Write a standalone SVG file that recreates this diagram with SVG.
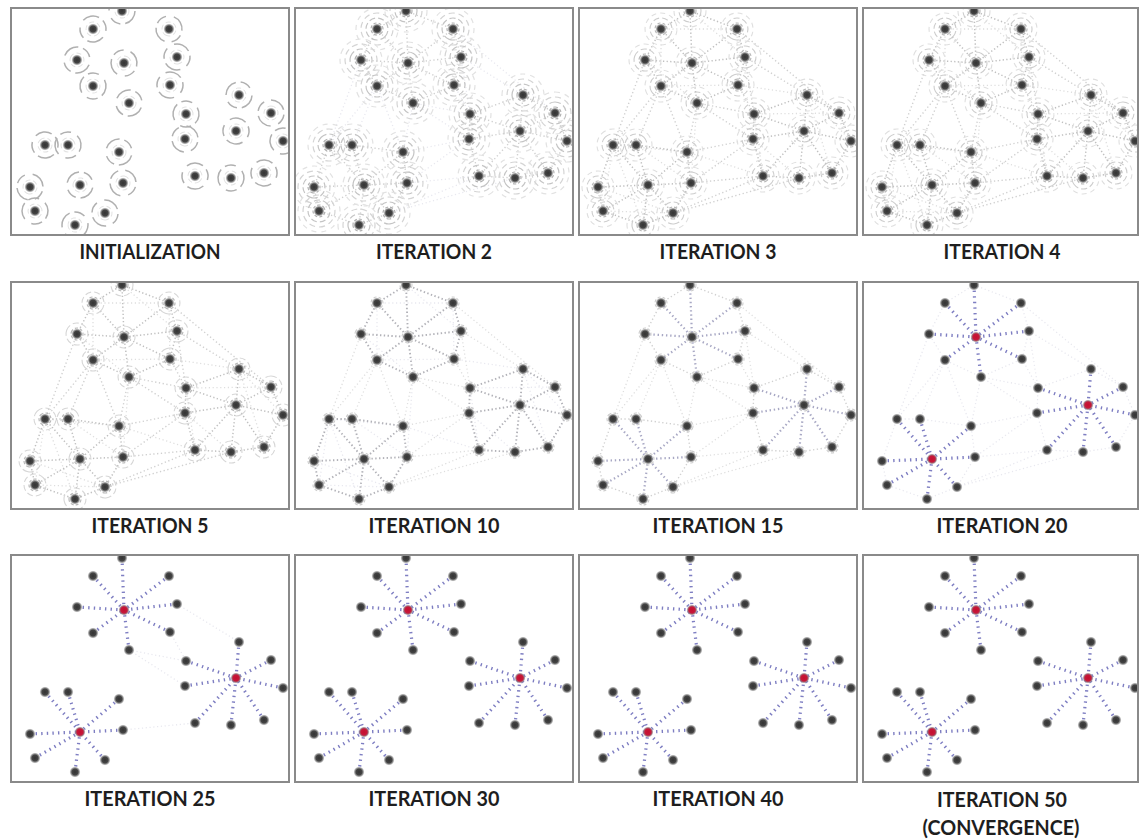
<svg xmlns="http://www.w3.org/2000/svg" width="1139" height="839" viewBox="0 0 1139 839">
<style>
.frame{fill:#fff;stroke:#8a8a8a;stroke-width:2}
.lbl{font-family:Lato,"Liberation Sans",sans-serif;font-weight:700;font-size:20px;fill:#1e1e1e;text-anchor:middle}
.m{fill:none;stroke-linecap:butt}
.mA{stroke:#c0c0c0;stroke-width:1.5;stroke-dasharray:1.3 2.3}
.mB{stroke:#d0d0d0;stroke-width:1.4;stroke-dasharray:1.3 2.5}
.mC{stroke:#dedede;stroke-width:1.3;stroke-dasharray:1.2 2.6}
.mD{stroke:#e8e8ef;stroke-width:1.3;stroke-dasharray:1.2 2.6}
.sp10{stroke:#b2b2b8;stroke-width:1.9;stroke-dasharray:1.4 2.4}
.sp15{stroke:#a8a8c4;stroke-width:2.2;stroke-dasharray:1.4 2.8}
.sp{stroke:#7e7ec2;stroke-width:3.2;stroke-dasharray:1.4 4.2}
.rg{fill:none}
</style>
<defs>
<radialGradient id="gd">
<stop offset="0" stop-color="#333"/>
<stop offset="0.55" stop-color="#444"/>
<stop offset="0.78" stop-color="#777" stop-opacity="0.7"/>
<stop offset="1" stop-color="#aaa" stop-opacity="0"/>
</radialGradient>
<radialGradient id="rd">
<stop offset="0" stop-color="#c3102f"/>
<stop offset="0.6" stop-color="#c8173a"/>
<stop offset="1" stop-color="#e06a80" stop-opacity="0"/>
</radialGradient>
<clipPath id="cp"><rect x="12" y="9" width="276" height="225"/></clipPath>
<clipPath id="cp4"><rect x="12" y="9" width="273" height="225"/></clipPath>

<g id="ring0" class="rg">
<circle r="7" stroke="#e2e2e2" stroke-width="1" stroke-dasharray="5 3"/>
<circle r="13" stroke="#b0b0b0" stroke-width="1.5" stroke-dasharray="17 5 11 8"/>
</g>
<g id="ring2" class="rg">
<circle r="6" stroke="#b0b0b0" stroke-width="1.2" stroke-dasharray="3 2"/>
<circle r="11" stroke="#c4c4c4" stroke-width="1.2" stroke-dasharray="6 3"/>
<circle r="16" stroke="#d4d4d4" stroke-width="1.2" stroke-dasharray="6 4"/>
<circle r="21" stroke="#e2e2e2" stroke-width="1.2" stroke-dasharray="5 5"/>
</g>
<g id="ring3" class="rg">
<circle r="6" stroke="#b8b8b8" stroke-width="1.2" stroke-dasharray="3 2"/>
<circle r="11" stroke="#cdcdcd" stroke-width="1.1" stroke-dasharray="6 3"/>
<circle r="16" stroke="#dfdfdf" stroke-width="1.1" stroke-dasharray="5 4"/>
</g>
<g id="ring5" class="rg">
<circle r="6" stroke="#b8b8b8" stroke-width="1.2" stroke-dasharray="3 2"/>
<circle r="11" stroke="#d6d6d6" stroke-width="1.1" stroke-dasharray="6 3"/>
</g>
<g id="ring10" class="rg">
<circle r="6" stroke="#cccccc" stroke-width="1.1" stroke-dasharray="3 2"/>
</g>

<g id="L0">
<use href="#ring0" transform="translate(122 11) rotate(0)"/>
<use href="#ring0" transform="translate(93 29) rotate(40)"/>
<use href="#ring0" transform="translate(169 29) rotate(110)"/>
<use href="#ring0" transform="translate(77 60) rotate(200)"/>
<use href="#ring0" transform="translate(124 63) rotate(300)"/>
<use href="#ring0" transform="translate(177 57) rotate(75)"/>
<use href="#ring0" transform="translate(93 86) rotate(150)"/>
<use href="#ring0" transform="translate(170 85) rotate(250)"/>
<use href="#ring0" transform="translate(129 103) rotate(20)"/>
<use href="#ring0" transform="translate(186 114) rotate(330)"/>
<use href="#ring0" transform="translate(185 139) rotate(95)"/>
<use href="#ring0" transform="translate(239 95) rotate(180)"/>
<use href="#ring0" transform="translate(271 113) rotate(270)"/>
<use href="#ring0" transform="translate(236 131) rotate(60)"/>
<use href="#ring0" transform="translate(283 141) rotate(135)"/>
<use href="#ring0" transform="translate(45 145) rotate(225)"/>
<use href="#ring0" transform="translate(68 145) rotate(315)"/>
<use href="#ring0" transform="translate(119 152) rotate(15)"/>
<use href="#ring0" transform="translate(30 187) rotate(100)"/>
<use href="#ring0" transform="translate(80 185) rotate(190)"/>
<use href="#ring0" transform="translate(123 183) rotate(280)"/>
<use href="#ring0" transform="translate(195 176) rotate(50)"/>
<use href="#ring0" transform="translate(231 178) rotate(145)"/>
<use href="#ring0" transform="translate(264 173) rotate(235)"/>
<use href="#ring0" transform="translate(35 211) rotate(320)"/>
<use href="#ring0" transform="translate(105 213) rotate(85)"/>
<use href="#ring0" transform="translate(75 225) rotate(170)"/>
</g>
<g id="L2">
<use href="#ring2" transform="translate(122 11) rotate(0)"/>
<use href="#ring2" transform="translate(93 29) rotate(40)"/>
<use href="#ring2" transform="translate(169 29) rotate(110)"/>
<use href="#ring2" transform="translate(77 60) rotate(200)"/>
<use href="#ring2" transform="translate(124 63) rotate(300)"/>
<use href="#ring2" transform="translate(177 57) rotate(75)"/>
<use href="#ring2" transform="translate(93 86) rotate(150)"/>
<use href="#ring2" transform="translate(170 85) rotate(250)"/>
<use href="#ring2" transform="translate(129 103) rotate(20)"/>
<use href="#ring2" transform="translate(186 114) rotate(330)"/>
<use href="#ring2" transform="translate(185 139) rotate(95)"/>
<use href="#ring2" transform="translate(239 95) rotate(180)"/>
<use href="#ring2" transform="translate(271 113) rotate(270)"/>
<use href="#ring2" transform="translate(236 131) rotate(60)"/>
<use href="#ring2" transform="translate(283 141) rotate(135)"/>
<use href="#ring2" transform="translate(45 145) rotate(225)"/>
<use href="#ring2" transform="translate(68 145) rotate(315)"/>
<use href="#ring2" transform="translate(119 152) rotate(15)"/>
<use href="#ring2" transform="translate(30 187) rotate(100)"/>
<use href="#ring2" transform="translate(80 185) rotate(190)"/>
<use href="#ring2" transform="translate(123 183) rotate(280)"/>
<use href="#ring2" transform="translate(195 176) rotate(50)"/>
<use href="#ring2" transform="translate(231 178) rotate(145)"/>
<use href="#ring2" transform="translate(264 173) rotate(235)"/>
<use href="#ring2" transform="translate(35 211) rotate(320)"/>
<use href="#ring2" transform="translate(105 213) rotate(85)"/>
<use href="#ring2" transform="translate(75 225) rotate(170)"/>
</g>
<g id="L3">
<use href="#ring3" transform="translate(122 11) rotate(0)"/>
<use href="#ring3" transform="translate(93 29) rotate(40)"/>
<use href="#ring3" transform="translate(169 29) rotate(110)"/>
<use href="#ring3" transform="translate(77 60) rotate(200)"/>
<use href="#ring3" transform="translate(124 63) rotate(300)"/>
<use href="#ring3" transform="translate(177 57) rotate(75)"/>
<use href="#ring3" transform="translate(93 86) rotate(150)"/>
<use href="#ring3" transform="translate(170 85) rotate(250)"/>
<use href="#ring3" transform="translate(129 103) rotate(20)"/>
<use href="#ring3" transform="translate(186 114) rotate(330)"/>
<use href="#ring3" transform="translate(185 139) rotate(95)"/>
<use href="#ring3" transform="translate(239 95) rotate(180)"/>
<use href="#ring3" transform="translate(271 113) rotate(270)"/>
<use href="#ring3" transform="translate(236 131) rotate(60)"/>
<use href="#ring3" transform="translate(283 141) rotate(135)"/>
<use href="#ring3" transform="translate(45 145) rotate(225)"/>
<use href="#ring3" transform="translate(68 145) rotate(315)"/>
<use href="#ring3" transform="translate(119 152) rotate(15)"/>
<use href="#ring3" transform="translate(30 187) rotate(100)"/>
<use href="#ring3" transform="translate(80 185) rotate(190)"/>
<use href="#ring3" transform="translate(123 183) rotate(280)"/>
<use href="#ring3" transform="translate(195 176) rotate(50)"/>
<use href="#ring3" transform="translate(231 178) rotate(145)"/>
<use href="#ring3" transform="translate(264 173) rotate(235)"/>
<use href="#ring3" transform="translate(35 211) rotate(320)"/>
<use href="#ring3" transform="translate(105 213) rotate(85)"/>
<use href="#ring3" transform="translate(75 225) rotate(170)"/>
</g>
<g id="L5">
<use href="#ring5" transform="translate(122 11) rotate(0)"/>
<use href="#ring5" transform="translate(93 29) rotate(40)"/>
<use href="#ring5" transform="translate(169 29) rotate(110)"/>
<use href="#ring5" transform="translate(77 60) rotate(200)"/>
<use href="#ring5" transform="translate(124 63) rotate(300)"/>
<use href="#ring5" transform="translate(177 57) rotate(75)"/>
<use href="#ring5" transform="translate(93 86) rotate(150)"/>
<use href="#ring5" transform="translate(170 85) rotate(250)"/>
<use href="#ring5" transform="translate(129 103) rotate(20)"/>
<use href="#ring5" transform="translate(186 114) rotate(330)"/>
<use href="#ring5" transform="translate(185 139) rotate(95)"/>
<use href="#ring5" transform="translate(239 95) rotate(180)"/>
<use href="#ring5" transform="translate(271 113) rotate(270)"/>
<use href="#ring5" transform="translate(236 131) rotate(60)"/>
<use href="#ring5" transform="translate(283 141) rotate(135)"/>
<use href="#ring5" transform="translate(45 145) rotate(225)"/>
<use href="#ring5" transform="translate(68 145) rotate(315)"/>
<use href="#ring5" transform="translate(119 152) rotate(15)"/>
<use href="#ring5" transform="translate(30 187) rotate(100)"/>
<use href="#ring5" transform="translate(80 185) rotate(190)"/>
<use href="#ring5" transform="translate(123 183) rotate(280)"/>
<use href="#ring5" transform="translate(195 176) rotate(50)"/>
<use href="#ring5" transform="translate(231 178) rotate(145)"/>
<use href="#ring5" transform="translate(264 173) rotate(235)"/>
<use href="#ring5" transform="translate(35 211) rotate(320)"/>
<use href="#ring5" transform="translate(105 213) rotate(85)"/>
<use href="#ring5" transform="translate(75 225) rotate(170)"/>
</g>
<g id="L10">
<use href="#ring10" transform="translate(122 11) rotate(0)"/>
<use href="#ring10" transform="translate(93 29) rotate(40)"/>
<use href="#ring10" transform="translate(169 29) rotate(110)"/>
<use href="#ring10" transform="translate(77 60) rotate(200)"/>
<use href="#ring10" transform="translate(124 63) rotate(300)"/>
<use href="#ring10" transform="translate(177 57) rotate(75)"/>
<use href="#ring10" transform="translate(93 86) rotate(150)"/>
<use href="#ring10" transform="translate(170 85) rotate(250)"/>
<use href="#ring10" transform="translate(129 103) rotate(20)"/>
<use href="#ring10" transform="translate(186 114) rotate(330)"/>
<use href="#ring10" transform="translate(185 139) rotate(95)"/>
<use href="#ring10" transform="translate(239 95) rotate(180)"/>
<use href="#ring10" transform="translate(271 113) rotate(270)"/>
<use href="#ring10" transform="translate(236 131) rotate(60)"/>
<use href="#ring10" transform="translate(283 141) rotate(135)"/>
<use href="#ring10" transform="translate(45 145) rotate(225)"/>
<use href="#ring10" transform="translate(68 145) rotate(315)"/>
<use href="#ring10" transform="translate(119 152) rotate(15)"/>
<use href="#ring10" transform="translate(30 187) rotate(100)"/>
<use href="#ring10" transform="translate(80 185) rotate(190)"/>
<use href="#ring10" transform="translate(123 183) rotate(280)"/>
<use href="#ring10" transform="translate(195 176) rotate(50)"/>
<use href="#ring10" transform="translate(231 178) rotate(145)"/>
<use href="#ring10" transform="translate(264 173) rotate(235)"/>
<use href="#ring10" transform="translate(35 211) rotate(320)"/>
<use href="#ring10" transform="translate(105 213) rotate(85)"/>
<use href="#ring10" transform="translate(75 225) rotate(170)"/>
</g>

<path id="outl" d="M122 11L169 29L177 57L170 85L129 103L93 86L77 60L93 29Z M186 114L239 95L271 113L283 141L264 173L231 178L195 176L185 139Z M45 145L68 145L119 152L123 183L105 213L75 225L35 211L30 187Z"/>
<path id="spk" d="M122 11L124 63M93 29L124 63M169 29L124 63M77 60L124 63M177 57L124 63M93 86L124 63M170 85L124 63M129 103L124 63 M186 114L236 131M185 139L236 131M239 95L236 131M271 113L236 131M283 141L236 131M195 176L236 131M231 178L236 131M264 173L236 131 M45 145L80 185M68 145L80 185M119 152L80 185M30 187L80 185M123 183L80 185M35 211L80 185M105 213L80 185M75 225L80 185"/>
<path id="inter" d="M170 85L186 114M177 57L186 114M129 103L186 114M129 103L185 139M177 57L239 95M169 29L271 113M129 103L119 152M93 86L119 152M93 86L68 145M77 60L45 145M93 86L45 145M185 139L119 152M185 139L123 183M123 183L195 176M105 213L195 176M105 213L231 178"/>
<path id="extra" d="M93 29L169 29M77 60L129 103M93 86L170 85M122 11L177 57M93 29L93 86M169 29L170 85M186 114L271 113M239 95L283 141M185 139L231 178M186 114L195 176M239 95L264 173M45 145L119 152M68 145L123 183M30 187L105 213M35 211L105 213M45 145L35 211M170 85L239 95M129 103L123 183M119 152L195 176M45 145L75 225"/>

<g id="pts" fill="url(#gd)">
<circle cx="122" cy="11" r="5.6"/><circle cx="93" cy="29" r="5.6"/><circle cx="169" cy="29" r="5.6"/>
<circle cx="77" cy="60" r="5.6"/><circle cx="124" cy="63" r="5.6"/><circle cx="177" cy="57" r="5.6"/>
<circle cx="93" cy="86" r="5.6"/><circle cx="170" cy="85" r="5.6"/><circle cx="129" cy="103" r="5.6"/>
<circle cx="186" cy="114" r="5.6"/><circle cx="185" cy="139" r="5.6"/><circle cx="239" cy="95" r="5.6"/>
<circle cx="271" cy="113" r="5.6"/><circle cx="236" cy="131" r="5.6"/><circle cx="283" cy="141" r="5.6"/>
<circle cx="45" cy="145" r="5.6"/><circle cx="68" cy="145" r="5.6"/><circle cx="119" cy="152" r="5.6"/>
<circle cx="30" cy="187" r="5.6"/><circle cx="80" cy="185" r="5.6"/><circle cx="123" cy="183" r="5.6"/>
<circle cx="195" cy="176" r="5.6"/><circle cx="231" cy="178" r="5.6"/><circle cx="264" cy="173" r="5.6"/>
<circle cx="35" cy="211" r="5.6"/><circle cx="105" cy="213" r="5.6"/><circle cx="75" cy="225" r="5.6"/>
</g>
<g id="ex" fill="url(#rd)">
<circle cx="124" cy="63" r="5"/><circle cx="236" cy="131" r="5"/><circle cx="80" cy="185" r="5"/>
</g>
</defs>

<rect x="0" y="0" width="1139" height="839" fill="#fff"/>

<!-- Row 1 -->
<g id="panel-init">
<rect class="frame" x="11" y="8" width="278" height="227"/>
<g clip-path="url(#cp)"><use href="#L0"/><use href="#pts"/></g>
<text class="lbl" x="150" y="259" textLength="141" lengthAdjust="spacingAndGlyphs">INITIALIZATION</text>
</g>
<g id="panel-it2" transform="translate(284 0)">
<rect class="frame" x="11" y="8" width="278" height="227"/>
<g clip-path="url(#cp)" class="m">
<use href="#inter" class="mD"/>
<use href="#outl" class="mB"/><use href="#spk" class="mB"/>
<use href="#L2"/><use href="#pts"/></g>
<text class="lbl" x="150" y="259" textLength="116" lengthAdjust="spacingAndGlyphs">ITERATION 2</text>
</g>
<g id="panel-it3" transform="translate(568 0)">
<rect class="frame" x="11" y="8" width="278" height="227"/>
<g clip-path="url(#cp)" class="m">
<use href="#extra" class="mC"/><use href="#inter" class="mB"/>
<use href="#outl" class="mA"/><use href="#spk" class="mA"/>
<use href="#L3"/><use href="#pts"/></g>
<text class="lbl" x="150" y="259" textLength="117" lengthAdjust="spacingAndGlyphs">ITERATION 3</text>
</g>
<g id="panel-it4" transform="translate(852 0)">
<rect class="frame" x="11" y="8" width="275" height="227"/>
<g clip-path="url(#cp4)" class="m">
<use href="#extra" class="mC"/><use href="#inter" class="mB"/>
<use href="#outl" class="mA"/><use href="#spk" class="mA"/>
<use href="#L3"/><use href="#pts"/></g>
<text class="lbl" x="150" y="259" textLength="117" lengthAdjust="spacingAndGlyphs">ITERATION 4</text>
</g>

<!-- Row 2 -->
<g id="panel-it5" transform="translate(0 274)">
<rect class="frame" x="11" y="8" width="278" height="227"/>
<g clip-path="url(#cp)" class="m">
<use href="#extra" class="mC"/><use href="#inter" class="mB"/>
<use href="#outl" class="mA"/><use href="#spk" class="mA"/>
<use href="#L5"/><use href="#pts"/></g>
<text class="lbl" x="150" y="259" textLength="117" lengthAdjust="spacingAndGlyphs">ITERATION 5</text>
</g>
<g id="panel-it10" transform="translate(284 274)">
<rect class="frame" x="11" y="8" width="278" height="227"/>
<g clip-path="url(#cp)" class="m">
<use href="#extra" class="mD"/><use href="#inter" class="mC"/>
<use href="#outl" class="sp10"/><use href="#spk" class="sp10"/>
<use href="#L10"/><use href="#pts"/></g>
<text class="lbl" x="150" y="259" textLength="131" lengthAdjust="spacingAndGlyphs">ITERATION 10</text>
</g>
<g id="panel-it15" transform="translate(568 274)">
<rect class="frame" x="11" y="8" width="278" height="227"/>
<g clip-path="url(#cp)" class="m">
<use href="#inter" class="mC"/>
<use href="#outl" class="mB"/><use href="#spk" class="sp15"/>
<use href="#L10"/><use href="#pts"/></g>
<text class="lbl" x="150" y="259" textLength="131" lengthAdjust="spacingAndGlyphs">ITERATION 15</text>
</g>
<g id="panel-it20" transform="translate(852 274)">
<rect class="frame" x="11" y="8" width="275" height="227"/>
<g clip-path="url(#cp4)" class="m">
<use href="#inter" class="mD"/><use href="#outl" class="mD"/>
<use href="#spk" class="sp"/>
<use href="#pts"/><use href="#ex"/></g>
<text class="lbl" x="150" y="259" textLength="131" lengthAdjust="spacingAndGlyphs">ITERATION 20</text>
</g>

<!-- Row 3 -->
<g id="panel-it25" transform="translate(0 547)">
<rect class="frame" x="11" y="8" width="278" height="227"/>
<g clip-path="url(#cp)" class="m">
<path class="mD" d="M170 85L186 114M129 103L186 114M129 103L185 139M177 57L239 95M123 183L195 176"/>
<use href="#spk" class="sp"/>
<use href="#pts"/><use href="#ex"/></g>
<text class="lbl" x="150" y="259" textLength="131" lengthAdjust="spacingAndGlyphs">ITERATION 25</text>
</g>
<g id="panel-it30" transform="translate(284 547)">
<rect class="frame" x="11" y="8" width="278" height="227"/>
<g clip-path="url(#cp)" class="m">
<use href="#spk" class="sp"/>
<use href="#pts"/><use href="#ex"/></g>
<text class="lbl" x="150" y="259" textLength="131" lengthAdjust="spacingAndGlyphs">ITERATION 30</text>
</g>
<g id="panel-it40" transform="translate(568 547)">
<rect class="frame" x="11" y="8" width="278" height="227"/>
<g clip-path="url(#cp)" class="m">
<use href="#spk" class="sp"/>
<use href="#pts"/><use href="#ex"/></g>
<text class="lbl" x="150" y="259" textLength="131" lengthAdjust="spacingAndGlyphs">ITERATION 40</text>
</g>
<g id="panel-it50" transform="translate(852 547)">
<rect class="frame" x="11" y="8" width="275" height="227"/>
<g clip-path="url(#cp4)" class="m">
<use href="#spk" class="sp"/>
<use href="#pts"/><use href="#ex"/></g>
<text class="lbl" x="150" y="259.5" textLength="130" lengthAdjust="spacingAndGlyphs">ITERATION 50</text>
<text class="lbl" x="149" y="288" textLength="157" lengthAdjust="spacingAndGlyphs">(CONVERGENCE)</text>
</g>
</svg>
